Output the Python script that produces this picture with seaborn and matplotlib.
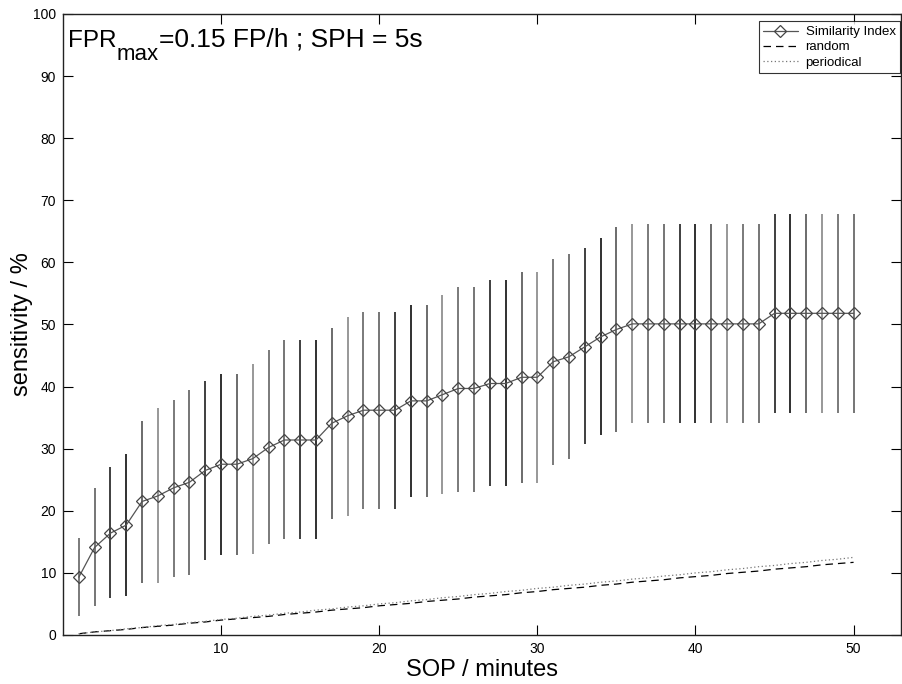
import matplotlib
matplotlib.use("Agg")
import matplotlib.pyplot as plt
import seaborn as sns
import numpy as np
import pandas as pd

sop = list(range(1, 51))
si_mean = [9.3, 14.1, 16.4, 17.7, 21.5, 22.4, 23.7, 24.6, 26.5, 27.5,
           27.5, 28.4, 30.2, 31.4, 31.4, 31.4, 34.1, 35.3, 36.2, 36.2,
           36.2, 37.7, 37.7, 38.7, 39.7, 39.7, 40.5, 40.5, 41.5, 41.5,
           44.0, 44.8, 46.4, 48.0, 49.2, 50.1, 50.1, 50.1, 50.1, 50.1,
           50.1, 50.1, 50.1, 50.1, 51.8, 51.8, 51.8, 51.8, 51.8, 51.8]
si_lower = [3.1, 4.6, 5.9, 6.2, 8.4, 8.4, 9.3, 9.7, 12.0, 12.9,
            12.9, 13.0, 14.7, 15.4, 15.4, 15.4, 18.6, 19.2, 20.3, 20.3,
            20.3, 22.3, 22.3, 22.7, 23.1, 23.1, 24.0, 24.0, 24.4, 24.4,
            27.3, 28.4, 30.7, 32.2, 32.7, 34.2, 34.2, 34.2, 34.2, 34.2,
            34.2, 34.2, 34.2, 34.2, 35.8, 35.8, 35.8, 35.8, 35.8, 35.8]
si_upper = [15.6, 23.6, 27.0, 29.1, 34.5, 36.5, 37.8, 39.4, 40.9, 42.0,
            42.0, 43.6, 45.9, 47.5, 47.5, 47.5, 49.4, 51.2, 52.0, 52.0,
            52.0, 53.1, 53.1, 54.7, 56.0, 56.0, 57.1, 57.1, 58.5, 58.5,
            60.5, 61.3, 62.3, 63.9, 65.7, 66.2, 66.2, 66.2, 66.2, 66.2,
            66.2, 66.2, 66.2, 66.2, 67.8, 67.8, 67.8, 67.8, 67.8, 67.8]
random_vals = [0.2, 0.5, 0.7, 0.9, 1.2, 1.4, 1.6, 1.9, 2.1, 2.4,
               2.6, 2.8, 3.0, 3.3, 3.5, 3.7, 4.0, 4.2, 4.4, 4.7,
               4.9, 5.1, 5.4, 5.6, 5.8, 6.1, 6.3, 6.5, 6.8, 7.0,
               7.3, 7.5, 7.7, 8.0, 8.2, 8.5, 8.7, 8.9, 9.2, 9.4,
               9.6, 9.9, 10.1, 10.3, 10.6, 10.8, 11.0, 11.3, 11.5, 11.7]
periodical_vals = [0.2, 0.5, 0.7, 1.0, 1.2, 1.5, 1.7, 2.0, 2.2, 2.5,
                   2.7, 3.0, 3.2, 3.5, 3.7, 4.0, 4.2, 4.5, 4.7, 5.0,
                   5.2, 5.5, 5.7, 6.0, 6.2, 6.5, 6.7, 7.0, 7.2, 7.5,
                   7.7, 8.0, 8.2, 8.5, 8.7, 9.0, 9.2, 9.5, 9.7, 10.0,
                   10.2, 10.5, 10.7, 11.0, 11.2, 11.5, 11.7, 12.0, 12.2, 12.5]
x_ticks = [10, 20, 30, 40, 50]
y_ticks = [0, 10, 20, 30, 40, 50, 60, 70, 80, 90, 100]

sns.set_style("ticks")
plt.rcParams['font.family'] = ['Liberation Sans', 'DejaVu Sans']
plt.rcParams['text.color'] = 'black'
plt.rcParams['axes.labelcolor'] = 'black'
plt.rcParams['xtick.color'] = 'black'
plt.rcParams['ytick.color'] = 'black'

df = pd.DataFrame({"sop": sop, "mean": si_mean, "lo": si_lower, "hi": si_upper,
                   "random": random_vals, "periodical": periodical_vals})

fig = plt.figure(figsize=(9.02, 6.84), dpi=100)
ax = fig.add_axes([63/902, 1-635/684, (901-63)/902, (635-14)/684])

# error bars
grays = ['#707070', '#6a6a6a', '#303030', '#202020', '#606060', '#909090']
for i, row in df.iterrows():
    ax.vlines(row["sop"], row["lo"], row["hi"], color=grays[i % len(grays)], lw=1.3, zorder=2)

sns.lineplot(data=df, x="sop", y="mean", ax=ax, color='#555555', lw=0.9,
             marker='D', markersize=6, markerfacecolor='none',
             markeredgecolor='#444444', markeredgewidth=0.9,
             label='Similarity Index', zorder=3)
sns.lineplot(data=df, x="sop", y="random", ax=ax, color='black', lw=0.9,
             dashes=False, linestyle=(0, (6, 4)), label='random', zorder=3)
sns.lineplot(data=df, x="sop", y="periodical", ax=ax, color='#777777', lw=0.9,
             linestyle=(0, (1, 2)), label='periodical', zorder=3)

ax.set_xlim(0, 53)
ax.set_ylim(0, 100)
ax.set_xticks(x_ticks)
ax.set_yticks(y_ticks)
ax.tick_params(direction='in', length=7, width=0.8, labelsize=10,
               top=True, right=True, pad=5, colors='black')
for s in ax.spines.values():
    s.set_linewidth(1.0)
    s.set_color('#222222')

ax.set_xlabel("SOP / minutes", fontsize=17, labelpad=2)
ax.set_ylabel("sensitivity / %", fontsize=17)
ax.yaxis.set_label_coords(-0.036, 0.5)

# title inside axes: FPR with large subscript "max"
base_y = (635 - 46.7) / 621
t1 = ax.text(0.006, base_y, 'FPR', transform=ax.transAxes, ha='left',
             va='baseline', fontsize=17.5)
t2 = ax.annotate('max', xy=(1, base_y), xycoords=(t1, 'axes fraction'),
                 xytext=(0.3, -9.5), textcoords='offset points',
                 ha='left', va='baseline', fontsize=16)
t3 = ax.annotate('=0.15 FP/h ; SPH = 5s', xy=(1, base_y),
                 xycoords=(t2, 'axes fraction'), xytext=(0, 0),
                 textcoords='offset points', ha='left', va='baseline',
                 fontsize=19)

leg = ax.legend(loc='upper right', bbox_to_anchor=(0.999, 0.988), fontsize=9.5,
                frameon=True, fancybox=False, edgecolor='black', handlelength=2.6,
                borderpad=0.35, labelspacing=0.22, handletextpad=0.6,
                borderaxespad=0)
leg.get_frame().set_linewidth(0.8)

fig.savefig("out.png", dpi=100, facecolor='white')
